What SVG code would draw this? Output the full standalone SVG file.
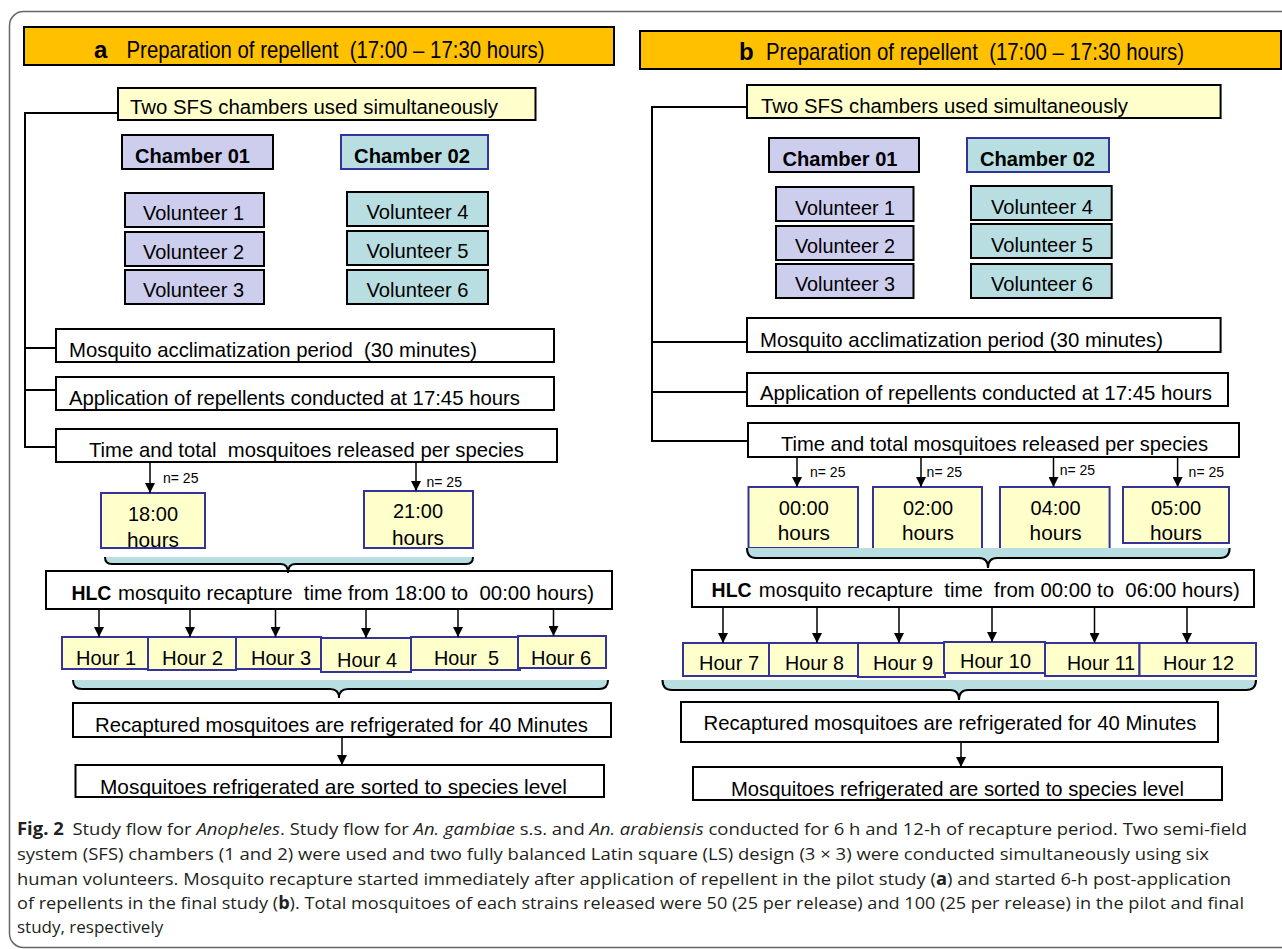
<svg xmlns="http://www.w3.org/2000/svg" width="1282" height="949" viewBox="0 0 1282 949">
<defs>
<marker id="ah" markerUnits="userSpaceOnUse" markerWidth="10" markerHeight="10" refX="10" refY="5" orient="auto"><path d="M0,0 L10,5 L0,10 Z" fill="#000"/></marker>
<style>
.f{font-family:"Liberation Sans",Arial,sans-serif;fill:#000;white-space:pre}
.b{font-weight:bold}
.bx{stroke:#000;stroke-width:2}
.or{fill:#FFC000}
.yl{fill:#FFFFCC}
.lv{fill:#CDCDEE}
.tl{fill:#B8DEE1}
.wh{fill:#FFFFFF}
.bl{stroke:#333399;stroke-width:2}
.ln{fill:none;stroke:#000;stroke-width:2}
.ar{fill:none;stroke:#000;stroke-width:1.5;marker-end:url(#ah)}
.bf{fill:#B8DEE1;stroke:none}
.cap{font-family:"Open Sans","Noto Sans",sans-serif;font-size:17px;fill:#231F20}
</style>
</defs>
<rect x="0" y="0" width="1282" height="949" fill="#fff"/>
<rect x="9.5" y="11.5" width="1300" height="936" rx="14" fill="none" stroke="#666" stroke-width="1.5"/>

<g id="nodes-a">
<g id="header-a"><rect class="or bx" x="24" y="27" width="590" height="38"/><text class="f b" x="94" y="58" font-size="24">a</text><text class="f" x="126.5" y="58" font-size="24" textLength="418" lengthAdjust="spacingAndGlyphs">Preparation of repellent  (17:00 – 17:30 hours)</text></g>
<g id="sfs-a"><rect class="yl bx" x="118" y="88" width="417.5" height="32"/><text class="f" x="130" y="114" font-size="20" textLength="368" lengthAdjust="spacingAndGlyphs">Two SFS chambers used simultaneously</text></g>
<g id="ch1-a"><rect class="lv bx" x="122" y="135" width="151" height="34"/><text class="f b" x="135" y="163" font-size="21" textLength="115" lengthAdjust="spacingAndGlyphs">Chamber 01</text></g>
<g id="ch2-a"><rect class="tl bl" x="341" y="135" width="147" height="34"/><text class="f b" x="354" y="163" font-size="21" textLength="116" lengthAdjust="spacingAndGlyphs">Chamber 02</text></g>
<g id="v1-a"><rect class="lv bx" x="125" y="193" width="139" height="34"/><text class="f" x="143" y="220" font-size="21" textLength="101" lengthAdjust="spacingAndGlyphs">Volunteer 1</text></g>
<g id="v2-a"><rect class="lv bx" x="125" y="232" width="139" height="34"/><text class="f" x="143" y="259" font-size="21" textLength="101" lengthAdjust="spacingAndGlyphs">Volunteer 2</text></g>
<g id="v3-a"><rect class="lv bx" x="125" y="270" width="139" height="34"/><text class="f" x="143" y="297" font-size="21" textLength="101" lengthAdjust="spacingAndGlyphs">Volunteer 3</text></g>
<g id="v4-a"><rect class="tl bx" x="347" y="192" width="141" height="34"/><text class="f" x="366.5" y="219" font-size="21" textLength="102" lengthAdjust="spacingAndGlyphs">Volunteer 4</text></g>
<g id="v5-a"><rect class="tl bx" x="347" y="231" width="141" height="34"/><text class="f" x="366.5" y="258" font-size="21" textLength="102" lengthAdjust="spacingAndGlyphs">Volunteer 5</text></g>
<g id="v6-a"><rect class="tl bx" x="347" y="270" width="141" height="34"/><text class="f" x="366.5" y="297" font-size="21" textLength="102" lengthAdjust="spacingAndGlyphs">Volunteer 6</text></g>
<g id="acc-a"><rect class="wh bx" x="56" y="329" width="498" height="33"/><text class="f" x="69" y="357" font-size="21" textLength="408" lengthAdjust="spacingAndGlyphs">Mosquito acclimatization period  (30 minutes)</text></g>
<g id="app-a"><rect class="wh bx" x="56" y="377" width="498" height="33"/><text class="f" x="69" y="405" font-size="21" textLength="451" lengthAdjust="spacingAndGlyphs">Application of repellents conducted at 17:45 hours</text></g>
<g id="time-a"><rect class="wh bx" x="56" y="429" width="501" height="33"/><text class="f" x="89" y="457" font-size="21" textLength="435" lengthAdjust="spacingAndGlyphs">Time and total  mosquitoes released per species</text></g>
<g id="r18"><rect class="yl bl" x="101" y="493" width="104" height="55"/><text class="f" x="153" y="521" font-size="21" text-anchor="middle" textLength="50" lengthAdjust="spacingAndGlyphs">18:00</text><text class="f" x="153" y="547" font-size="21" text-anchor="middle" textLength="52" lengthAdjust="spacingAndGlyphs">hours</text></g>
<g id="r21"><rect class="yl bl" x="364" y="491" width="109" height="57"/><text class="f" x="418" y="518" font-size="21" text-anchor="middle" textLength="50" lengthAdjust="spacingAndGlyphs">21:00</text><text class="f" x="418" y="545" font-size="21" text-anchor="middle" textLength="52" lengthAdjust="spacingAndGlyphs">hours</text></g>
<g id="hlc-a"><rect class="wh bx" x="46" y="571" width="566" height="38"/><text class="f b" x="71.4" y="600" font-size="20" textLength="40" lengthAdjust="spacingAndGlyphs">HLC</text><text class="f" x="118" y="600" font-size="20" textLength="476" lengthAdjust="spacingAndGlyphs">mosquito recapture  time from 18:00 to  00:00 hours)</text></g>
<g id="h1"><rect class="yl bl" x="62" y="637" width="86" height="32"/><text class="f" x="76" y="665" font-size="21" textLength="60" lengthAdjust="spacingAndGlyphs">Hour 1</text></g>
<g id="h2"><rect class="yl bl" x="148" y="637" width="88" height="33"/><text class="f" x="162" y="665" font-size="21" textLength="61" lengthAdjust="spacingAndGlyphs">Hour 2</text></g>
<g id="h3"><rect class="yl bl" x="236" y="637" width="85" height="32"/><text class="f" x="251" y="665" font-size="21" textLength="60" lengthAdjust="spacingAndGlyphs">Hour 3</text></g>
<g id="h4"><rect class="yl bl" x="321" y="638" width="90" height="34"/><text class="f" x="337" y="667" font-size="21" textLength="60" lengthAdjust="spacingAndGlyphs">Hour 4</text></g>
<g id="h5"><rect class="yl bl" x="411" y="637" width="109" height="33"/><text class="f" x="434" y="665" font-size="21" textLength="65" lengthAdjust="spacingAndGlyphs">Hour  5</text></g>
<g id="h6"><rect class="yl bl" x="518" y="636" width="88" height="32"/><text class="f" x="531" y="665" font-size="21" textLength="60" lengthAdjust="spacingAndGlyphs">Hour 6</text></g>
<g id="rec-a"><rect class="wh bx" x="73" y="703" width="538" height="34"/><text class="f" x="95" y="732" font-size="21" textLength="493" lengthAdjust="spacingAndGlyphs">Recaptured mosquitoes are refrigerated for 40 Minutes</text></g>
<g id="sort-a"><rect class="wh bx" x="75.5" y="765" width="528.5" height="32"/><text class="f" x="100" y="794" font-size="21" textLength="467" lengthAdjust="spacingAndGlyphs">Mosquitoes refrigerated are sorted to species level</text></g>
</g>

<g id="nodes-b">
<g id="header-b"><rect class="or bx" x="640" y="31" width="641" height="38"/><text class="f b" x="739" y="60" font-size="24">b</text><text class="f" x="766" y="60" font-size="24" textLength="418" lengthAdjust="spacingAndGlyphs">Preparation of repellent  (17:00 – 17:30 hours)</text></g>
<g id="sfs-b"><rect class="yl bx" x="747" y="85" width="473.6" height="33"/><text class="f" x="761" y="113" font-size="20" textLength="367" lengthAdjust="spacingAndGlyphs">Two SFS chambers used simultaneously</text></g>
<g id="ch1-b"><rect class="lv bx" x="769" y="138" width="150" height="34"/><text class="f b" x="782.5" y="166" font-size="21" textLength="115" lengthAdjust="spacingAndGlyphs">Chamber 01</text></g>
<g id="ch2-b"><rect class="tl bl" x="967" y="138" width="142" height="34"/><text class="f b" x="980" y="166" font-size="21" textLength="115" lengthAdjust="spacingAndGlyphs">Chamber 02</text></g>
<g id="v1-b"><rect class="lv bx" x="776" y="187" width="137.5" height="34"/><text class="f" x="795" y="215" font-size="21" textLength="100" lengthAdjust="spacingAndGlyphs">Volunteer 1</text></g>
<g id="v2-b"><rect class="lv bx" x="776" y="226" width="137.5" height="34"/><text class="f" x="795" y="253" font-size="21" textLength="100" lengthAdjust="spacingAndGlyphs">Volunteer 2</text></g>
<g id="v3-b"><rect class="lv bx" x="776" y="264" width="137.5" height="34"/><text class="f" x="795" y="291" font-size="21" textLength="100" lengthAdjust="spacingAndGlyphs">Volunteer 3</text></g>
<g id="v4-b"><rect class="tl bx" x="971" y="186" width="140.7" height="34"/><text class="f" x="991" y="214" font-size="21" textLength="102" lengthAdjust="spacingAndGlyphs">Volunteer 4</text></g>
<g id="v5-b"><rect class="tl bx" x="971" y="224" width="140.7" height="34"/><text class="f" x="991" y="252" font-size="21" textLength="102" lengthAdjust="spacingAndGlyphs">Volunteer 5</text></g>
<g id="v6-b"><rect class="tl bx" x="971" y="264" width="140.7" height="34"/><text class="f" x="991" y="291" font-size="21" textLength="102" lengthAdjust="spacingAndGlyphs">Volunteer 6</text></g>
<g id="acc-b"><rect class="wh bx" x="747" y="318" width="473.6" height="34"/><text class="f" x="760" y="347" font-size="21" textLength="403" lengthAdjust="spacingAndGlyphs">Mosquito acclimatization period (30 minutes)</text></g>
<g id="app-b"><rect class="wh bx" x="747" y="373" width="481" height="33"/><text class="f" x="760" y="400" font-size="21" textLength="452" lengthAdjust="spacingAndGlyphs">Application of repellents conducted at 17:45 hours</text></g>
<g id="time-b"><rect class="wh bx" x="748" y="423" width="491" height="34"/><text class="f" x="781" y="451" font-size="21" textLength="427" lengthAdjust="spacingAndGlyphs">Time and total mosquitoes released per species</text></g>
<g id="t00"><rect class="yl bl" x="748.5" y="487" width="109.5" height="61"/><text class="f" x="803.8" y="515" font-size="21" text-anchor="middle" textLength="50" lengthAdjust="spacingAndGlyphs">00:00</text><text class="f" x="803.8" y="540" font-size="21" text-anchor="middle" textLength="52" lengthAdjust="spacingAndGlyphs">hours</text></g>
<g id="t02"><rect class="yl bl" x="873" y="487" width="109" height="63"/><text class="f" x="928" y="515" font-size="21" text-anchor="middle" textLength="50" lengthAdjust="spacingAndGlyphs">02:00</text><text class="f" x="928" y="540" font-size="21" text-anchor="middle" textLength="52" lengthAdjust="spacingAndGlyphs">hours</text></g>
<g id="t04"><rect class="yl bl" x="1000" y="487" width="109.6" height="63"/><text class="f" x="1055.6" y="515" font-size="21" text-anchor="middle" textLength="50" lengthAdjust="spacingAndGlyphs">04:00</text><text class="f" x="1055.6" y="540" font-size="21" text-anchor="middle" textLength="52" lengthAdjust="spacingAndGlyphs">hours</text></g>
<g id="t05"><rect class="yl bl" x="1123" y="487" width="106" height="56"/><text class="f" x="1176" y="515" font-size="21" text-anchor="middle" textLength="50" lengthAdjust="spacingAndGlyphs">05:00</text><text class="f" x="1176" y="540" font-size="21" text-anchor="middle" textLength="52" lengthAdjust="spacingAndGlyphs">hours</text></g>
<g id="hlc-b"><rect class="wh bx" x="692" y="570" width="562" height="37"/><text class="f b" x="711.6" y="597" font-size="20" textLength="40" lengthAdjust="spacingAndGlyphs">HLC</text><text class="f" x="758.7" y="597" font-size="20" textLength="481" lengthAdjust="spacingAndGlyphs">mosquito recapture  time  from 00:00 to  06:00 hours)</text></g>
<g id="h7"><rect class="yl bl" x="683" y="643" width="86" height="33"/><text class="f" x="699" y="670" font-size="21" textLength="60" lengthAdjust="spacingAndGlyphs">Hour 7</text></g>
<g id="h8"><rect class="yl bl" x="769" y="643" width="89" height="33"/><text class="f" x="785" y="670" font-size="21" textLength="59" lengthAdjust="spacingAndGlyphs">Hour 8</text></g>
<g id="h9"><rect class="yl bl" x="858" y="643" width="87" height="34"/><text class="f" x="873" y="670" font-size="21" textLength="60" lengthAdjust="spacingAndGlyphs">Hour 9</text></g>
<g id="h10"><rect class="yl bl" x="944" y="642" width="101" height="31"/><text class="f" x="960" y="668" font-size="21" textLength="71" lengthAdjust="spacingAndGlyphs">Hour 10</text></g>
<g id="h11"><rect class="yl bl" x="1045" y="643" width="94.5" height="33"/><text class="f" x="1067" y="670" font-size="21" textLength="68" lengthAdjust="spacingAndGlyphs">Hour 11</text></g>
<g id="h12"><rect class="yl bl" x="1139.5" y="643" width="116.5" height="33"/><text class="f" x="1163" y="670" font-size="21" textLength="71" lengthAdjust="spacingAndGlyphs">Hour 12</text></g>
<g id="rec-b"><rect class="wh bx" x="681" y="702" width="537" height="40"/><text class="f" x="703.5" y="730" font-size="21" textLength="493" lengthAdjust="spacingAndGlyphs">Recaptured mosquitoes are refrigerated for 40 Minutes</text></g>
<g id="sort-b"><rect class="wh bx" x="693" y="767" width="529" height="33"/><text class="f" x="731" y="796" font-size="21" textLength="453" lengthAdjust="spacingAndGlyphs">Mosquitoes refrigerated are sorted to species level</text></g>
</g>

<g id="connectors">
<path class="ln" d="M118,113 H25 V447 H56 M25,348 H56 M25,390 H56"/>
<path class="ln" d="M747,107 H652 V441 H748 M652,342 H747 M652,392 H747"/>
<path class="bf" d="M105,557 Q105,564 112,564 L281,564 Q288,564 288,573 Q288,564 295,564 L466,564 Q473,564 473,557 Z"/>
<path class="ln" d="M105,557 Q105,564 112,564 L281,564 Q288,564 288,573 Q288,564 295,564 L466,564 Q473,564 473,557"/>
<path class="bf" d="M73,680 Q73,689 82,689 L330,689 Q339,689 339,698 Q339,689 348,689 L599,689 Q608,689 608,680 Z"/>
<path class="ln" d="M73,680 Q73,689 82,689 L330,689 Q339,689 339,698 Q339,689 348,689 L599,689 Q608,689 608,680"/>
<path class="bf" d="M747,548 Q747,558 756,558 L979,558 Q988,558 988,568 Q988,558 997,558 L1220,558 Q1229.6,558 1229.6,548 Z"/>
<path class="ln" d="M747,548 Q747,558 756,558 L979,558 Q988,558 988,568 Q988,558 997,558 L1220,558 Q1229.6,558 1229.6,548"/>
<path class="bf" d="M662.5,680 Q662.5,690 672,690 L950,690 Q959,690 959,700 Q959,690 968,690 L1246,690 Q1256,690 1256,680 Z"/>
<path class="ln" d="M662.5,680 Q662.5,690 672,690 L950,690 Q959,690 959,700 Q959,690 968,690 L1246,690 Q1256,690 1256,680"/>
<line class="ar" x1="150" y1="462" x2="150" y2="493"/>
<line class="ar" x1="416" y1="462" x2="416" y2="491"/>
<line class="ar" x1="99" y1="609" x2="99" y2="637"/>
<line class="ar" x1="190" y1="609" x2="190" y2="637"/>
<line class="ar" x1="275.5" y1="609" x2="275.5" y2="637"/>
<line class="ar" x1="366" y1="609" x2="366" y2="638"/>
<line class="ar" x1="458" y1="609" x2="458" y2="637"/>
<line class="ar" x1="553.5" y1="609" x2="553.5" y2="636"/>
<line class="ar" x1="342" y1="737" x2="342" y2="765"/>
<line class="ar" x1="797" y1="457" x2="797" y2="487"/>
<line class="ar" x1="921" y1="457" x2="921" y2="487"/>
<line class="ar" x1="1053.5" y1="457" x2="1053.5" y2="487"/>
<line class="ar" x1="1177.6" y1="457" x2="1177.6" y2="487"/>
<line class="ar" x1="723" y1="607" x2="723" y2="643"/>
<line class="ar" x1="817" y1="607" x2="817" y2="643"/>
<line class="ar" x1="899" y1="607" x2="899" y2="643"/>
<line class="ar" x1="992" y1="607" x2="992" y2="642"/>
<line class="ar" x1="1094.5" y1="607" x2="1094.5" y2="643"/>
<line class="ar" x1="1187" y1="607" x2="1187" y2="643"/>
<line class="ar" x1="961" y1="742" x2="961" y2="767"/>
<text class="f" x="163" y="483" font-size="14">n= 25</text>
<text class="f" x="426.5" y="487" font-size="14">n= 25</text>
<text class="f" x="810" y="477" font-size="14">n= 25</text>
<text class="f" x="926.6" y="477" font-size="14">n= 25</text>
<text class="f" x="1059.7" y="475" font-size="14">n= 25</text>
<text class="f" x="1188.6" y="477" font-size="14">n= 25</text>
</g>

<g id="caption">
<text class="cap" x="17" y="835" textLength="1230" lengthAdjust="spacingAndGlyphs"><tspan font-weight="bold">Fig. 2</tspan><tspan dx="8">Study flow for </tspan><tspan font-style="italic">Anopheles</tspan>. Study flow for <tspan font-style="italic">An. gambiae</tspan> s.s. and <tspan font-style="italic">An. arabiensis</tspan> conducted for 6 h and 12-h of recapture period. Two semi-field</text>
<text class="cap" x="17" y="860" textLength="1192" lengthAdjust="spacingAndGlyphs">system (SFS) chambers (1 and 2) were used and two fully balanced Latin square (LS) design (3 × 3) were conducted simultaneously using six</text>
<text class="cap" x="17" y="885" textLength="1214" lengthAdjust="spacingAndGlyphs">human volunteers. Mosquito recapture started immediately after application of repellent in the pilot study (<tspan font-weight="bold">a</tspan>) and started 6-h post-application</text>
<text class="cap" x="17" y="909" textLength="1227" lengthAdjust="spacingAndGlyphs">of repellents in the final study (<tspan font-weight="bold">b</tspan>). Total mosquitoes of each strains released were 50 (25 per release) and 100 (25 per release) in the pilot and final</text>
<text class="cap" x="17" y="933">study, respectively</text>
</g>
</svg>
